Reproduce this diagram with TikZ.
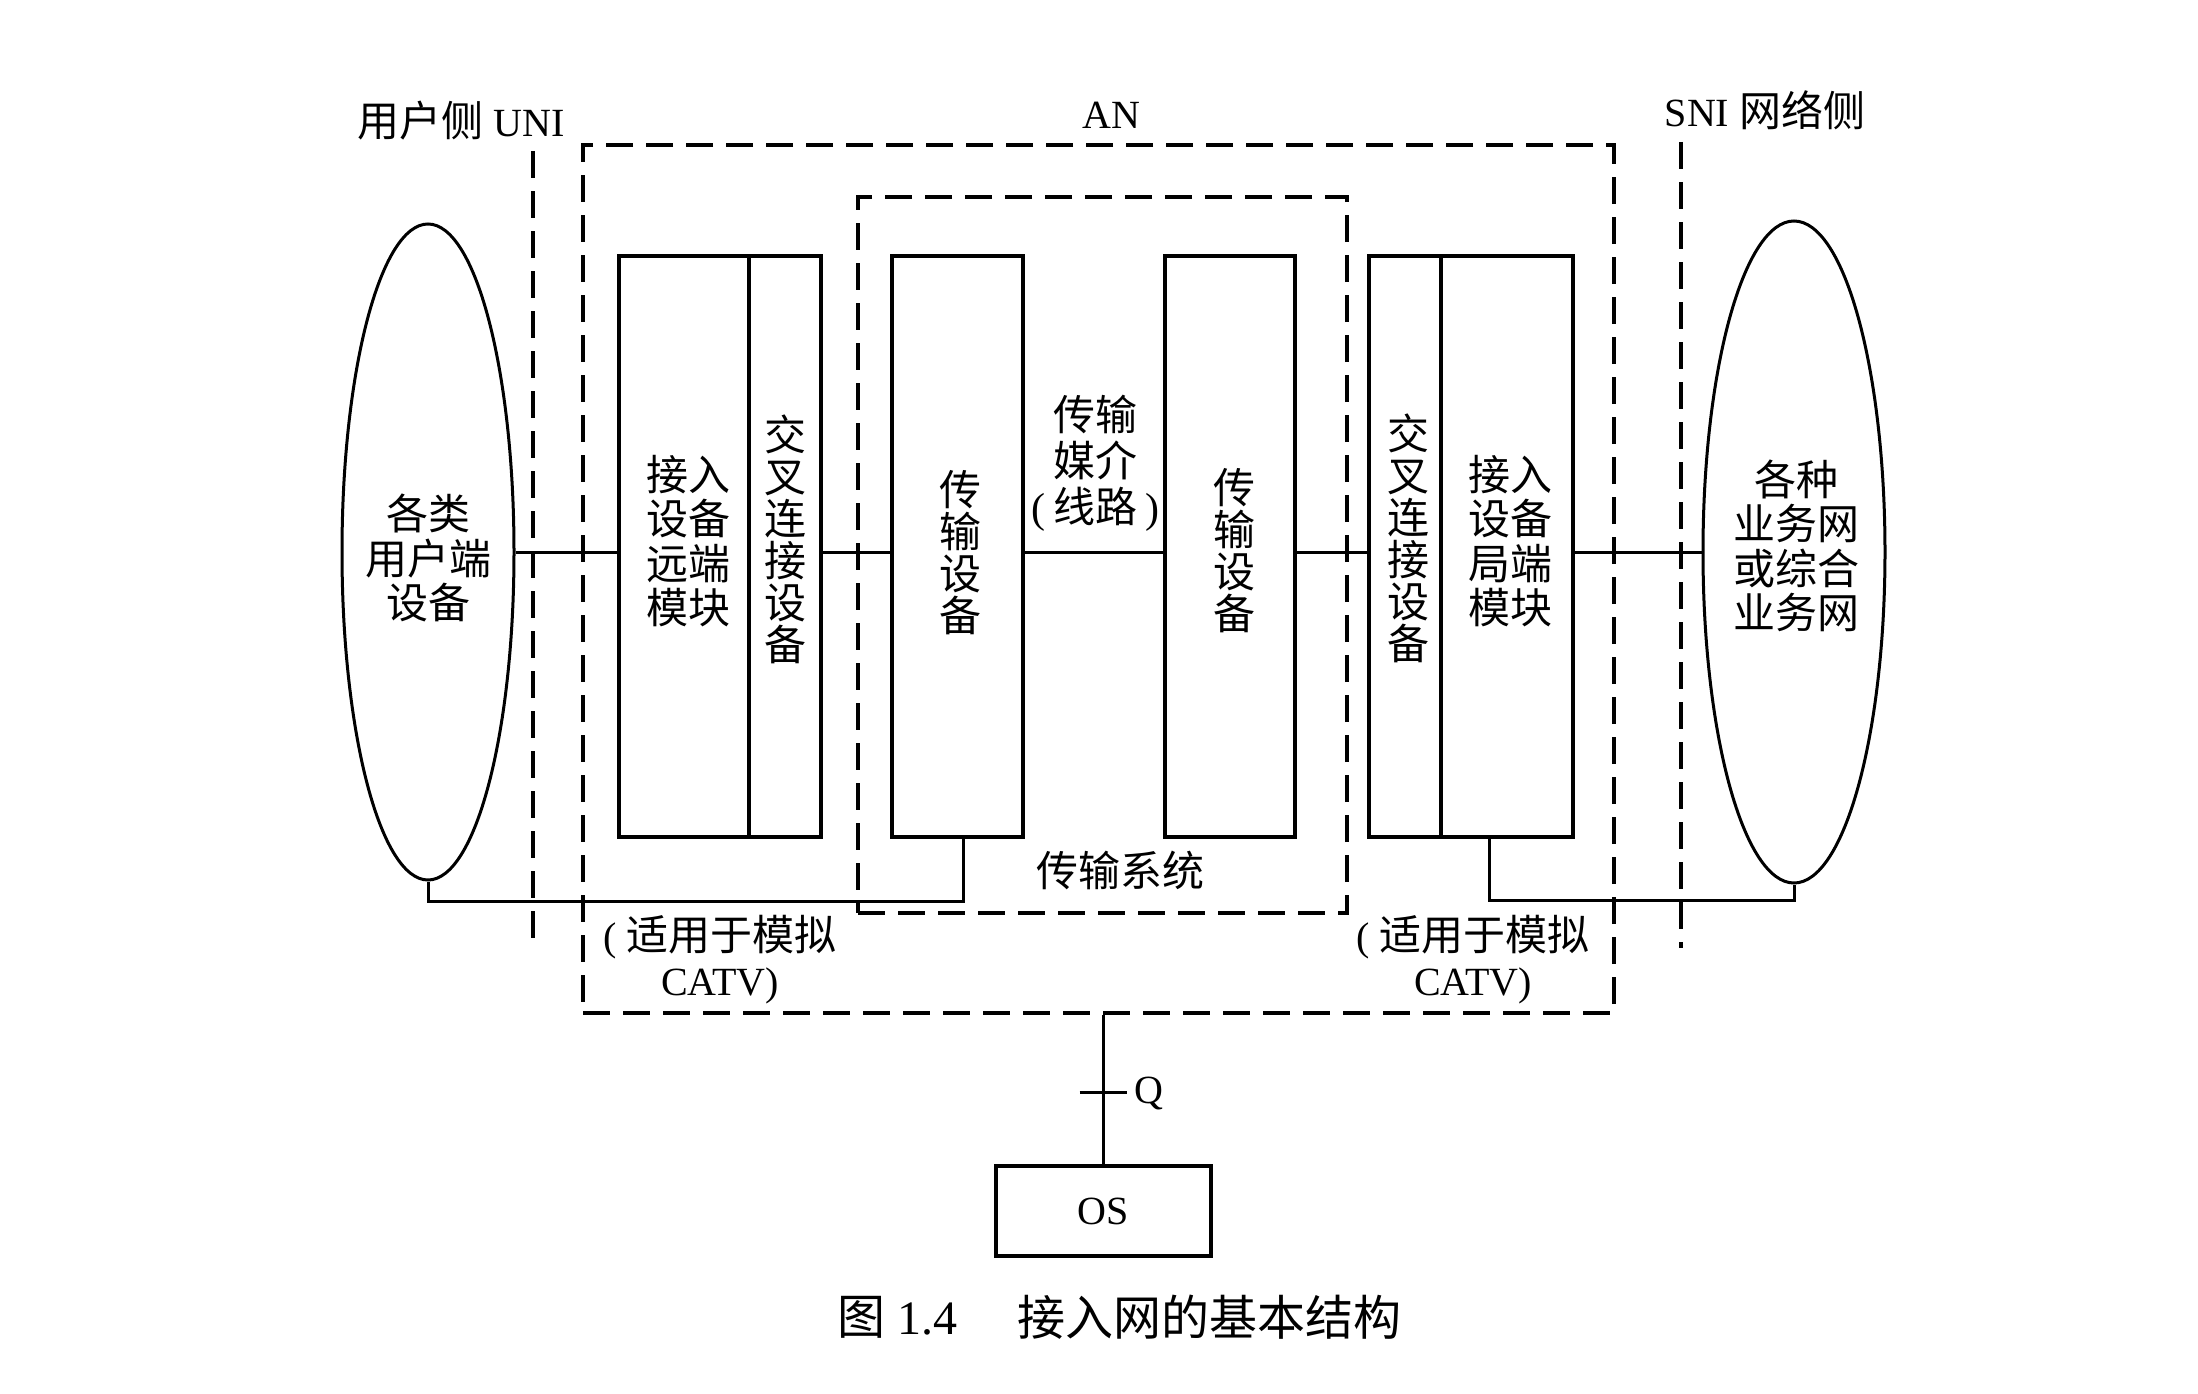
\documentclass[tikz,border=0pt]{standalone}
\usepackage{fontspec}
\setmainfont{Liberation Serif}
\newfontfamily\cjk{Noto Sans CJK SC}
\usetikzlibrary{shapes.geometric}
\begin{document}
\begin{tikzpicture}[x=1pt,y=-1pt,
  blk/.style={draw, line width=3.2pt, inner sep=0pt},
  oval/.style={draw, ellipse, line width=3pt, inner sep=0pt},
  wire/.style={line width=3pt},
  dsh/.style={line width=3.2pt, dash pattern=on 27pt off 13pt},
  zh/.style={font=\cjk\fontsize{42}{42}\selectfont, align=center, inner sep=0pt},
  zhw/.style={font=\cjk\fontsize{42}{44.5}\selectfont, align=center, inner sep=0pt},
  lat/.style={font=\fontsize{40}{45}\selectfont, align=center, inner sep=0pt},
]
\fill[white] (0,0) rectangle (2198,1394);
\useasboundingbox (0,0) rectangle (2198,1394);

% dashed frames
\node[dsh, draw, minimum width=1031, minimum height=868, inner sep=0pt] (an) at (1098.5,579) {};
\node[dsh, draw, minimum width=489, minimum height=716, inner sep=0pt] (ts) at (1102.5,555) {};
\coordinate (unit) at (533,151);
\coordinate (unib) at (533,947);
\draw[dsh] (unit) -- (unib);
\coordinate (snit) at (1681,142);
\coordinate (snib) at (1681,948);
\draw[dsh] (snit) -- (snib);

% ellipses
\node[oval, minimum width=172, minimum height=656] (e1) at (428,552) {};
\node[oval, minimum width=182, minimum height=662] (e2) at (1794,552) {};

% boxes
\node[blk, minimum width=130, minimum height=581] (b1a) at (684,546.5) {};
\node[blk, minimum width=72, minimum height=581] (b1b) at (785,546.5) {};
\node[blk, minimum width=131, minimum height=581] (b2) at (957.5,546.5) {};
\node[blk, minimum width=130, minimum height=581] (b3) at (1230,546.5) {};
\node[blk, minimum width=72, minimum height=581] (b4a) at (1405,546.5) {};
\node[blk, minimum width=132, minimum height=581] (b4b) at (1507,546.5) {};

% connectors
\draw[wire] (e1.east) -- (b1a.west |- e1.east);
\draw[wire] (b1b.east |- e1.east) -- (b2.west |- e1.east);
\draw[wire] (b2.east |- e1.east) -- (b3.west |- e1.east);
\draw[wire] (b3.east |- e1.east) -- (b4a.west |- e1.east);
\draw[wire] (b4b.east |- e2.west) -- (e2.west);

\coordinate (jl) at (963,901);
\draw[wire] (e1.south) |- (jl) -- (jl |- b2.south);
\coordinate (jr) at (1489,900);
\draw[wire] (jr |- b4b.south) -- (jr) -| (e2.south);

% OS and Q
\node[blk, lat, minimum width=215, minimum height=90] (os) at (1103.5,1211) {OS};
\draw[wire] (os.north |- an.south) -- (os.north);
\coordinate (qt) at (os.north |- 0,1092);
\draw[wire] ([xshift=-24pt]qt) -- ([xshift=23pt]qt);
\node[lat] (q) at (1149,1093) {Q};

% texts
\node[zhw] (te1) at (428,558) {各类\\用户端\\设备};
\node[zhw] (tb1a) at (688,541) {接入\\设备\\远端\\模块};
\node[zh] (tb1b) at (785,539) {交\\叉\\连\\接\\设\\备};
\node[zh] (tb2) at (960,553) {传\\输\\设\\备};
\node[zh, font=\cjk\fontsize{42}{46}\selectfont] (tmid) at (1095,463) {传输\\媒介\\{\rmfamily(}\hspace{8pt}线路\hspace{8pt}{\rmfamily)}};
\node[zh] (tb3) at (1234,551) {传\\输\\设\\备};
\node[zh] (tb4a) at (1408,538) {交\\叉\\连\\接\\设\\备};
\node[zhw] (tb4b) at (1510,541) {接入\\设备\\局端\\模块};
\node[zhw] (te2) at (1796,546) {各种\\业务网\\或综合\\业务网};
\node[zh] (tts) at (1120,870) {传输系统};

\node[lat] (catvl) at (720,960) {(\hspace{10pt}{\cjk\fontsize{42}{45}\selectfont 适用于模拟}\\CATV)};
\node[lat] (catvr) at (1473,960) {(\hspace{10pt}{\cjk\fontsize{42}{45}\selectfont 适用于模拟}\\CATV)};

\node[lat] (unil) at (461,121) {{\cjk\fontsize{42}{45}\selectfont 用户侧} UNI};
\node[lat] (anl) at (1111,115) {AN};
\node[lat] (snil) at (1765,110) {SNI {\cjk\fontsize{42}{45}\selectfont 网络侧}};

\node[inner sep=0pt, font=\fontsize{48}{50}\selectfont] (cap1) at (897,1317) {{\cjk 图} 1.4};
\node[zh, font=\cjk\fontsize{48}{50}\selectfont] (cap2) at (1209,1317) {接入网的基本结构};
\end{tikzpicture}
\end{document}
